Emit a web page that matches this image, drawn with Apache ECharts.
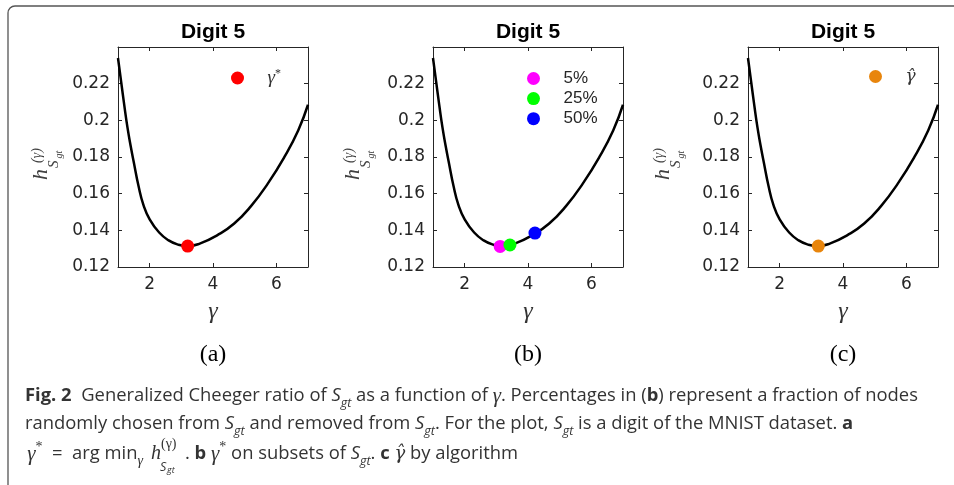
<!DOCTYPE html>
<html>
<head>
<meta charset="utf-8">
<script src="https://cdn.jsdelivr.net/npm/echarts@6/dist/echarts.min.js"></script>
<style>
html,body{margin:0;padding:0;background:#fff;}
#c{width:954px;height:485px;}
</style>
</head>
<body>
<div id="c"></div>
<script>
// ---- data ----
const curveX = [1.0, 1.1, 1.2, 1.3, 1.4, 1.5, 1.65, 1.8, 2.0, 2.3, 2.6, 2.9, 3.2, 3.6, 4.14, 4.67, 5.2, 5.73, 6.26, 6.69, 7.0];
const curveY = [0.234, 0.221, 0.208, 0.196, 0.186, 0.177, 0.164, 0.154, 0.146, 0.1388, 0.1345, 0.1322, 0.1314, 0.1329, 0.1374, 0.1437, 0.1532, 0.1655, 0.1802, 0.1945, 0.2085];
const xTicks = [2, 4, 6];
const yTicks = [0.12, 0.14, 0.16, 0.18, 0.2, 0.22];
const panelTitles = ['Digit 5', 'Digit 5', 'Digit 5'];
const panelLabels = ['(a)', '(b)', '(c)'];
const pointGammaStar = [[3.2, 0.1314]];
const point5 = [[3.12, 0.1312]];
const point25 = [[3.43, 0.1320]];
const point50 = [[4.22, 0.1385]];
const pointGammaHat = [[3.22, 0.1314]];

// ---- layout ----
const gridLefts = [118, 433, 748];
const gridW = 190, gridTop = 47, gridH = 220;
const axisColor = '#262626';
const sans = 'Liberation Sans';
const tickFont = 'DejaVu Sans';
const serif = 'Liberation Serif';
const hatSerif = 'DejaVu Serif';

const curve = curveX.map((x, i) => [x, curveY[i]]);

const grids = gridLefts.map(l => ({left: l, top: gridTop, width: gridW, height: gridH}));
const xAxes = [], yAxes = [];
gridLefts.forEach((l, i) => {
  const common = {
    type: 'value', gridIndex: i,
    axisLine: {show: true, onZero: false, lineStyle: {color: axisColor, width: 1}},
    splitLine: {show: false}
  };
  xAxes.push(Object.assign({}, common, {
    min: 1, max: 7, position: 'bottom',
    axisTick: {show: true, inside: true, length: 4, customValues: xTicks, lineStyle: {color: axisColor}},
    axisLabel: {customValues: xTicks, color: axisColor, fontSize: 17, fontFamily: tickFont, margin: 9},
    name: 'γ', nameLocation: 'middle', nameGap: 33,
    nameTextStyle: {fontFamily: serif, fontStyle: 'italic', fontSize: 24, color: '#333'}
  }));
  xAxes.push(Object.assign({}, common, {
    min: 1, max: 7, position: 'top',
    axisTick: {show: true, inside: true, length: 4, customValues: xTicks, lineStyle: {color: axisColor}},
    axisLabel: {show: false}
  }));
  yAxes.push(Object.assign({}, common, {
    min: 0.12, max: 0.24, position: 'left',
    axisTick: {show: true, inside: true, length: 4, customValues: yTicks, lineStyle: {color: axisColor}},
    axisLabel: {customValues: yTicks, color: axisColor, fontSize: 17, fontFamily: tickFont, margin: 8}
  }));
  yAxes.push(Object.assign({}, common, {
    min: 0.12, max: 0.24, position: 'right',
    axisTick: {show: true, inside: true, length: 4, customValues: yTicks, lineStyle: {color: axisColor}},
    axisLabel: {show: false}
  }));
});

const series = [];
gridLefts.forEach((l, i) => {
  series.push({
    type: 'line', name: 'curve' + i, xAxisIndex: 2 * i, yAxisIndex: 2 * i,
    data: curve, showSymbol: false, smooth: 0.5, silent: true,
    lineStyle: {color: '#000', width: 2.5}, z: 2
  });
});
function dot(name, grid, data, color) {
  return {type: 'scatter', name: name, xAxisIndex: 2 * grid, yAxisIndex: 2 * grid,
    data: data, symbol: 'circle', symbolSize: 13, itemStyle: {color: color, opacity: 1}, z: 5, silent: true};
}
series.push(dot('gstar', 0, pointGammaStar, '#ff0000'));
series.push(dot('p5', 1, point5, '#ff00ff'));
series.push(dot('p25', 1, point25, '#00ff00'));
series.push(dot('p50', 1, point50, '#0000ff'));
series.push(dot('ghat', 2, pointGammaHat, '#E8850C'));

const legendBase = {padding: 0, itemWidth: 50, itemHeight: 13, selectedMode: false, icon: 'circle'};
const legends = [
  Object.assign({}, legendBase, {
    data: ['gstar'], left: 231, top: 68,
    formatter: () => '{g|γ}{s|*}',
    textStyle: {rich: {
      g: {fontFamily: serif, fontStyle: 'italic', fontSize: 19, color: '#333', lineHeight: 20},
      s: {fontFamily: serif, fontSize: 12, color: '#333', verticalAlign: 'top', lineHeight: 12}
    }}
  }),
  Object.assign({}, legendBase, {
    data: ['p5', 'p25', 'p50'], left: 527, top: 70, orient: 'vertical', itemGap: 3.1,
    formatter: n => ({p5: '5%', p25: '25%', p50: '50%'})[n],
    textStyle: {fontFamily: sans, fontSize: 17, color: axisColor}
  }),
  Object.assign({}, legendBase, {
    data: ['ghat'], left: 869, top: 68,
    formatter: () => '{g|γ\u0302}',
    textStyle: {rich: {g: {fontFamily: hatSerif, fontStyle: 'italic', fontSize: 17, color: '#333', lineHeight: 20}}}
  })
];

const titles = gridLefts.map((l, i) => ({
  text: panelTitles[i], left: l + gridW / 2, top: 22, textAlign: 'center', padding: 0,
  textStyle: {fontFamily: sans, fontWeight: 'bold', fontSize: 21, color: '#000'}
}));

// graphic: frame, panel labels, y-axis names, caption
const graphic = [];
graphic.push({type: 'rect', shape: {x: 8, y: 6, width: 980, height: 500, r: 7},
  style: {fill: 'none', stroke: '#555', lineWidth: 1.3}, silent: true});
panelLabels.forEach((t, i) => {
  graphic.push({type: 'text', style: {x: gridLefts[i] + gridW / 2, y: 355, text: t,
    font: '24px "Liberation Serif"', fill: '#000', align: 'center', verticalAlign: 'middle'}});
});
const yNameX = [47, 359, 669];
yNameX.forEach(x0 => {
  graphic.push({type: 'group', x: x0, y: 180, rotation: Math.PI / 2, children: [
    {type: 'text', style: {x: 0, y: 5, text: 'h', font: 'italic 22px "Liberation Serif"', fill: '#404040', align: 'left', verticalAlign: 'bottom'}},
    {type: 'text', style: {x: 17, y: -3, text: '(γ)', font: 'italic 14px "Liberation Serif"', fill: '#404040', align: 'left', verticalAlign: 'bottom'}},
    {type: 'text', style: {x: 12, y: 15, text: 'S', font: 'italic 15px "Liberation Serif"', fill: '#404040', align: 'left', verticalAlign: 'bottom'}},
    {type: 'text', style: {x: 21.5, y: 17, text: 'gt', font: 'italic 10px "Liberation Serif"', fill: '#404040', align: 'left', verticalAlign: 'bottom'}}
  ]});
});

const capFont = 'Open Sans';
const capSize = 18.4;
const capColor = '#333';
const capRich = {
  b: {fontFamily: capFont, fontWeight: 'bold', fontSize: capSize, color: '#111', lineHeight: 28},
  n: {fontFamily: capFont, fontSize: capSize, color: capColor, lineHeight: 28},
  i: {fontFamily: capFont, fontStyle: 'italic', fontSize: capSize, color: capColor, lineHeight: 28},
  sub: {fontFamily: capFont, fontStyle: 'italic', fontSize: 12.5, color: capColor, lineHeight: 18, verticalAlign: 'bottom'},
  g: {fontFamily: serif, fontStyle: 'italic', fontSize: 21, color: capColor, lineHeight: 28},
  gh: {fontFamily: hatSerif, fontStyle: 'italic', fontSize: 18, color: capColor, lineHeight: 28},
  sup: {fontFamily: serif, fontSize: 14, color: capColor, lineHeight: 18, verticalAlign: 'top'},
  gsub: {fontFamily: serif, fontStyle: 'italic', fontSize: 14, color: capColor, lineHeight: 18, verticalAlign: 'bottom'}
};
function capText(x, y, text, align) {
  return {type: 'text', silent: true, style: {x: x, y: y, text: text, rich: capRich,
    fontFamily: capFont, fontSize: capSize, fill: capColor, lineHeight: 28,
    align: align || 'left', verticalAlign: 'middle'}};
}
const cap1 = '{b|Fig. 2}{n|  Generalized Cheeger ratio of }{i|S}{sub|gt}{n| as a function of }{g|γ}{n|. Percentages in (}{b|b}{n|) represent a fraction of nodes}';
const cap2 = '{n|randomly chosen from }{i|S}{sub|gt}{n| and removed from }{i|S}{sub|gt}{n|. For the plot, }{i|S}{sub|gt}{n| is a digit of the MNIST dataset. }{b|a}';
const cap3a = '{g|γ}{sup|*}{n|  =  arg min}{gsub|γ}';
const cap3c = '{n|. }{b|b}{n| }{g|γ}{sup|*}{n| on subsets of }{i|S}{sub|gt}{n|. }{b|c}{n| }{gh|γ\u0302}{n| by algorithm}';
graphic.push(capText(25, 396, cap1));
graphic.push(capText(25, 424, cap2));
graphic.push(capText(143, 454, cap3a, 'right'));
graphic.push({type: 'text', silent: true, style: {x: 151, y: 454, text: 'h', font: 'italic 20px "Liberation Serif"', fill: capColor, align: 'left', verticalAlign: 'middle'}});
graphic.push({type: 'text', silent: true, style: {x: 161, y: 444, text: '(γ)', font: '14px "Liberation Serif"', fill: capColor, align: 'left', verticalAlign: 'middle'}});
graphic.push({type: 'text', silent: true, style: {x: 160, y: 467, text: 'S', font: 'italic 12.5px "Open Sans"', fill: capColor, align: 'left', verticalAlign: 'middle'}});
graphic.push({type: 'text', silent: true, style: {x: 167, y: 470, text: 'gt', font: 'italic 9px "Open Sans"', fill: capColor, align: 'left', verticalAlign: 'middle'}});
graphic.push(capText(185, 454, cap3c));

const chart = echarts.init(document.getElementById('c'), null, {renderer: 'canvas'});
chart.setOption({
  backgroundColor: '#fff',
  animation: false,
  title: titles,
  legend: legends,
  grid: grids,
  xAxis: xAxes,
  yAxis: yAxes,
  series: series,
  graphic: graphic
});
</script>
</body>
</html>
